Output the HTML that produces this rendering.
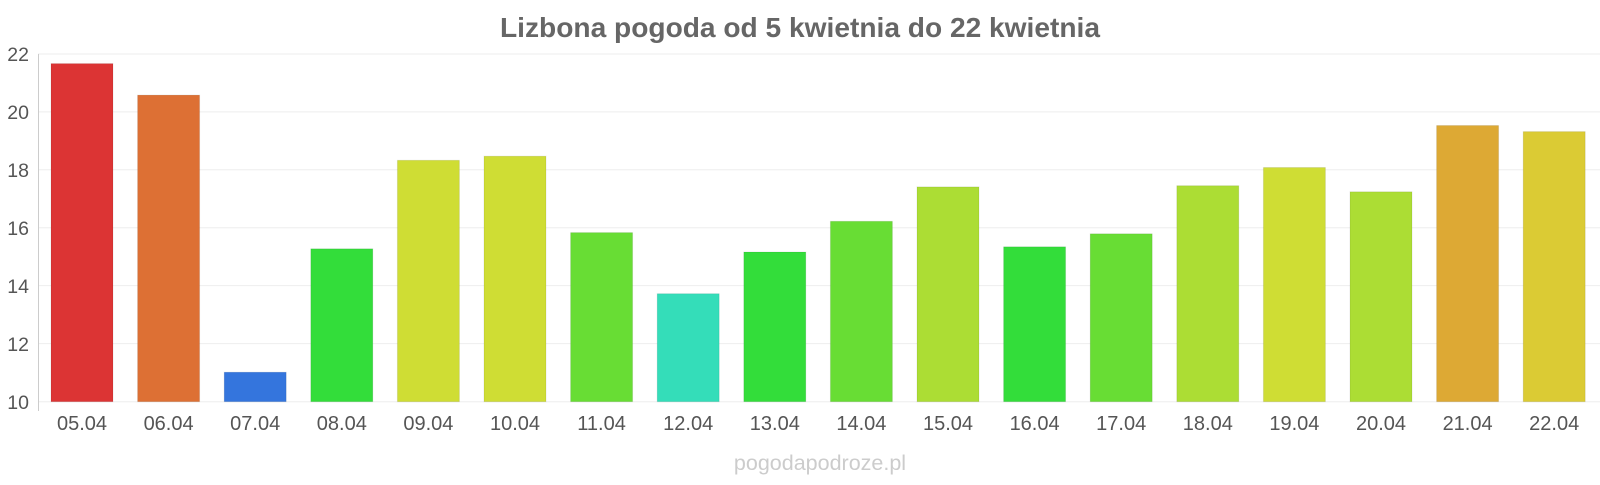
<!DOCTYPE html>
<html><head><meta charset="utf-8"><style>html,body{margin:0;padding:0;background:#fff}</style></head>
<body>
<svg width="1600" height="480" xmlns="http://www.w3.org/2000/svg" font-family="Liberation Sans, sans-serif">
<text x="800" y="37" text-anchor="middle" font-size="28" font-weight="bold" fill="#666" textLength="600" lengthAdjust="spacingAndGlyphs">Lizbona pogoda od 5 kwietnia do 22 kwietnia</text>
<g stroke="#eee" stroke-width="1">
<line x1="38" x2="1600" y1="54" y2="54"/><line x1="38" x2="1600" y1="111.9" y2="111.9"/><line x1="38" x2="1600" y1="169.8" y2="169.8"/><line x1="38" x2="1600" y1="227.7" y2="227.7"/><line x1="38" x2="1600" y1="285.6" y2="285.6"/><line x1="38" x2="1600" y1="343.6" y2="343.6"/><line x1="38" x2="1600" y1="401.7" y2="401.7"/>
</g>
<line x1="38.5" x2="38.5" y1="54" y2="411" stroke="#ccc"/>
<g font-size="19.5" fill="#555" text-anchor="end">
<text x="29" y="61">22</text><text x="29" y="119">20</text><text x="29" y="177">18</text><text x="29" y="235">16</text><text x="29" y="293">14</text><text x="29" y="351">12</text><text x="29" y="409">10</text>
</g>
<g stroke="rgba(0,0,0,0.08)" transform="translate(1,0)">
<rect x="50" y="63.6" width="62" height="338.1" fill="#dc3434"/>
<rect x="136.6" y="95.1" width="62" height="306.6" fill="#dd7034"/>
<rect x="223.2" y="372.2" width="62" height="29.5" fill="#3475dd"/>
<rect x="309.8" y="248.8" width="62" height="152.9" fill="#33dd3a"/>
<rect x="396.4" y="160.3" width="62" height="241.4" fill="#cfdd34"/>
<rect x="483" y="156.2" width="62" height="245.5" fill="#cfdd34"/>
<rect x="569.6" y="232.6" width="62" height="169.1" fill="#68dd34"/>
<rect x="656.2" y="293.7" width="62" height="108" fill="#34ddb9"/>
<rect x="742.8" y="252" width="62" height="149.7" fill="#33dd3a"/>
<rect x="829.4" y="221.3" width="62" height="180.4" fill="#68dd34"/>
<rect x="916" y="186.9" width="62" height="214.8" fill="#acdd34"/>
<rect x="1002.6" y="246.8" width="62" height="154.9" fill="#33dd3a"/>
<rect x="1089.2" y="233.8" width="62" height="167.9" fill="#68dd34"/>
<rect x="1175.8" y="185.7" width="62" height="216" fill="#acdd34"/>
<rect x="1262.4" y="167.5" width="62" height="234.2" fill="#cfdd34"/>
<rect x="1349" y="191.8" width="62" height="209.9" fill="#acdd34"/>
<rect x="1435.6" y="125.5" width="62" height="276.2" fill="#dda934"/>
<rect x="1522.2" y="131.6" width="62" height="270.1" fill="#dbcb34"/>
</g>
<g font-size="20" fill="#555" text-anchor="middle" transform="translate(1,0)">
<text x="81" y="430">05.04</text><text x="167.6" y="430">06.04</text><text x="254.2" y="430">07.04</text><text x="340.8" y="430">08.04</text><text x="427.4" y="430">09.04</text><text x="514" y="430">10.04</text><text x="600.6" y="430">11.04</text><text x="687.2" y="430">12.04</text><text x="773.8" y="430">13.04</text><text x="860.4" y="430">14.04</text><text x="947" y="430">15.04</text><text x="1033.6" y="430">16.04</text><text x="1120.2" y="430">17.04</text><text x="1206.8" y="430">18.04</text><text x="1293.4" y="430">19.04</text><text x="1380" y="430">20.04</text><text x="1466.6" y="430">21.04</text><text x="1553.2" y="430">22.04</text>
</g>
<text x="820" y="470" text-anchor="middle" font-size="21.5" fill="#ccc">pogodapodroze.pl</text>
</svg>
</body></html>
